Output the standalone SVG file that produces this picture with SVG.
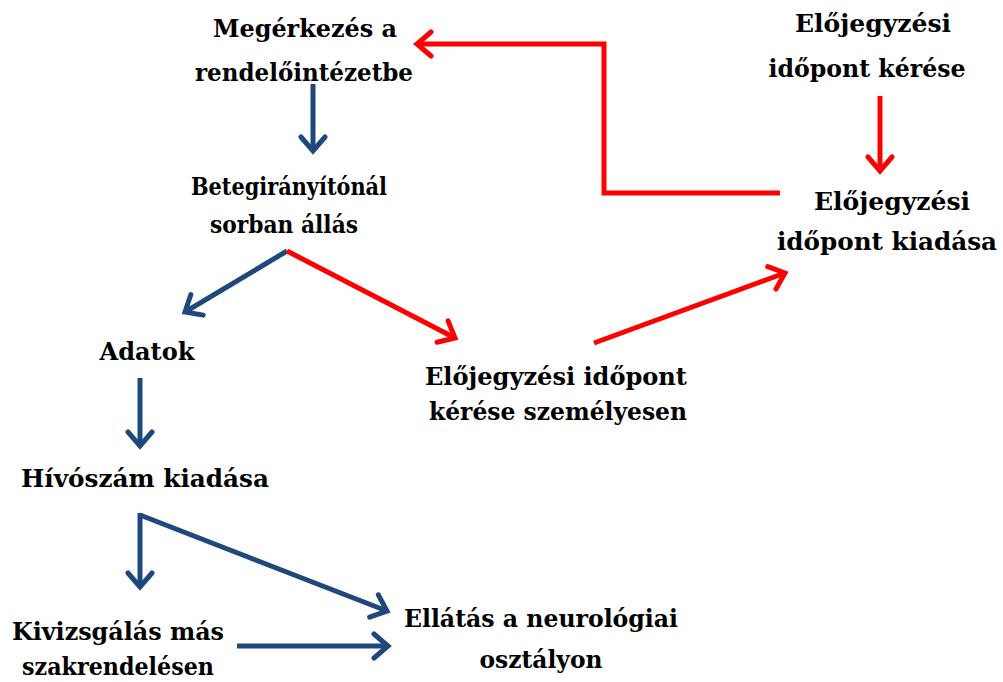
<svg xmlns="http://www.w3.org/2000/svg" width="1003" height="682" viewBox="0 0 1003 682">
  <style>
    text { font-family: 'DejaVu Serif', 'Liberation Serif', serif; font-weight: 700; font-size: 24px; fill: #000; text-anchor: middle; }
    .blue { fill: none; stroke: #1F497D; stroke-width: 5; }
    .red { fill: none; stroke: #FF0000; stroke-width: 5; }
  </style>
  <defs>
    <!-- open V arrowheads, same weight as the connector lines -->
    <marker id="headBlue" viewBox="0 0 22 30" refX="18" refY="15" markerWidth="22" markerHeight="30" markerUnits="userSpaceOnUse" orient="auto">
      <path d="M4,3 L18,15 L4,27" fill="none" stroke="#1F497D" stroke-width="5" stroke-linecap="round" stroke-linejoin="miter"/>
    </marker>
    <marker id="headRed" viewBox="0 0 22 30" refX="18" refY="15" markerWidth="22" markerHeight="30" markerUnits="userSpaceOnUse" orient="auto">
      <path d="M4,3 L18,15 L4,27" fill="none" stroke="#FF0000" stroke-width="5" stroke-linecap="round" stroke-linejoin="miter"/>
    </marker>
  </defs>
  <rect width="1003" height="682" fill="#fff"/>

  <g id="connectors">
    <line class="blue" x1="313" y1="84" x2="313" y2="151" marker-end="url(#headBlue)"/>
    <polyline class="red" points="780,193 604,193 604,44 417,44" marker-end="url(#headRed)"/>
    <line class="red" x1="880" y1="96" x2="880" y2="171" marker-end="url(#headRed)"/>
    <line class="blue" x1="287" y1="251" x2="185" y2="312" marker-end="url(#headBlue)"/>
    <line class="red" x1="287" y1="251" x2="455" y2="338" marker-end="url(#headRed)"/>
    <line class="red" x1="594" y1="343" x2="785" y2="273" marker-end="url(#headRed)"/>
    <line class="blue" x1="140" y1="378" x2="140" y2="446" marker-end="url(#headBlue)"/>
    <line class="blue" x1="140" y1="515" x2="387" y2="611" marker-end="url(#headBlue)"/>
    <line class="blue" x1="140" y1="513" x2="140" y2="587" marker-end="url(#headBlue)"/>
    <line class="blue" x1="237" y1="646" x2="388" y2="646" marker-end="url(#headBlue)"/>
  </g>

  <g id="node-megerkezes">
    <text x="305" y="37" textLength="184" lengthAdjust="spacingAndGlyphs">Megérkezés a</text>
    <text x="304" y="81" textLength="218" lengthAdjust="spacingAndGlyphs">rendelőintézetbe</text>
  </g>
  <g id="node-betegiranyito">
    <text x="289" y="195" textLength="196" lengthAdjust="spacingAndGlyphs">Betegirányítónál</text>
    <text x="284" y="233" textLength="148" lengthAdjust="spacingAndGlyphs">sorban állás</text>
  </g>
  <g id="node-adatok">
    <text x="147" y="360" textLength="95" lengthAdjust="spacingAndGlyphs">Adatok</text>
  </g>
  <g id="node-hivoszam">
    <text x="145" y="487" textLength="248" lengthAdjust="spacingAndGlyphs">Hívószám kiadása</text>
  </g>
  <g id="node-kivizsgalas">
    <text x="118" y="640" textLength="212" lengthAdjust="spacingAndGlyphs">Kivizsgálás más</text>
    <text x="118" y="675" textLength="192" lengthAdjust="spacingAndGlyphs">szakrendelésen</text>
  </g>
  <g id="node-ellatas">
    <text x="541" y="627" textLength="274" lengthAdjust="spacingAndGlyphs">Ellátás a neurológiai</text>
    <text x="541" y="668" textLength="123" lengthAdjust="spacingAndGlyphs">osztályon</text>
  </g>
  <g id="node-szemelyesen">
    <text x="556" y="385" textLength="262" lengthAdjust="spacingAndGlyphs">Előjegyzési időpont</text>
    <text x="558" y="420" textLength="258" lengthAdjust="spacingAndGlyphs">kérése személyesen</text>
  </g>
  <g id="node-kerese">
    <text x="873" y="32" textLength="156" lengthAdjust="spacingAndGlyphs">Előjegyzési</text>
    <text x="867" y="77" textLength="197" lengthAdjust="spacingAndGlyphs">időpont kérése</text>
  </g>
  <g id="node-kiadasa">
    <text x="892" y="210" textLength="156" lengthAdjust="spacingAndGlyphs">Előjegyzési</text>
    <text x="887" y="250" textLength="220" lengthAdjust="spacingAndGlyphs">időpont kiadása</text>
  </g>
</svg>
